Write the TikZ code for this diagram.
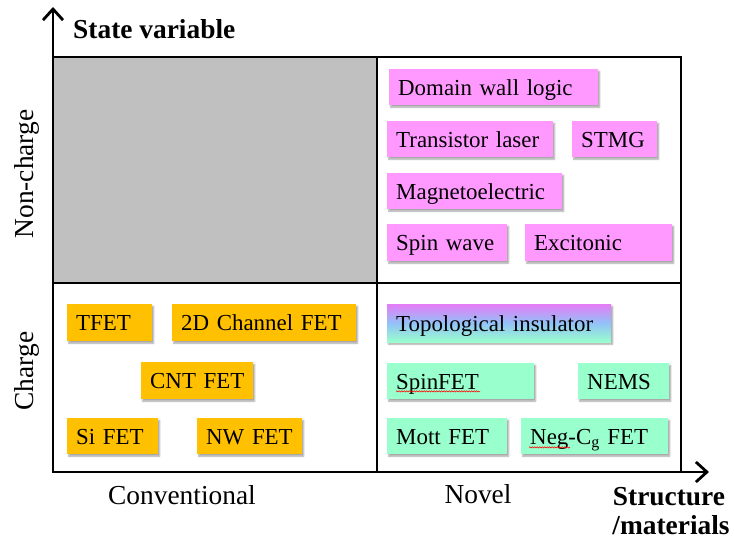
\documentclass[tikz,border=0pt]{standalone}
\usepackage{fontspec}
\setmainfont{Liberation Serif}
\usetikzlibrary{arrows.meta,shadows.blur,decorations.pathmorphing}
\definecolor{pinkbox}{HTML}{FF99FF}
\definecolor{greenbox}{HTML}{99FFCC}
\definecolor{orangebox}{HTML}{FFC000}
\definecolor{gridgray}{HTML}{C0C0C0}
\definecolor{tiTop}{HTML}{E47CF6}
\definecolor{tiMid}{HTML}{92C2F8}
\definecolor{tiBot}{HTML}{99FFCC}
\tikzset{
  border/.style={line width=2.5bp, black},
  axisline/.style={line width=2.8bp, black, -{Straight Barb[length=11bp,width=20bp]}},
  axlab/.style={inner sep=0pt, font=\fontsize{27.5}{30}\selectfont},
  axlabb/.style={inner sep=0pt, font=\fontsize{27.5}{30}\selectfont\bfseries},
  dev/.style={anchor=north west, inner xsep=9bp, inner ysep=0pt, align=left,
    text height=20bp, text depth=4bp,
    font=\fontsize{23}{27}\selectfont,
    blur shadow={shadow xshift=1.5bp, shadow yshift=-2bp, shadow blur radius=1.5bp, shadow opacity=35}},
  squiggle/.style={red, line width=0.6bp, decorate, decoration={snake, amplitude=0.6bp, segment length=2.5bp}}
}
\begin{document}
\begin{tikzpicture}[x=1bp,y=-1bp]
\useasboundingbox (0,0) rectangle (734,540);
% quadrants
\fill[gridgray] (53,57) rectangle (377,283);
\draw[border] (53,57) rectangle (681,472);
\draw[border] (377,57) -- (377,472);
\draw[border] (53,283) -- (681,283);
% axes
\coordinate (o) at (53,472);
\coordinate (ytip) at (53,7);
\coordinate (xtip) at (709,472);
\draw[axisline] (o) -- (ytip);
\draw[axisline] (o) -- (xtip);
% axis labels
\node[axlabb, anchor=base west] (sv) at (73,39) {State variable};
\node[axlab, anchor=base] (conv) at (182,504) {Conventional};
\node[axlab, anchor=base] (novel) at (478,503) {Novel};
\node[axlabb, anchor=base] (sm1) at (669,505) {Structure};
\node[axlabb, anchor=base] (sm2) at (671,534) {/materials};
\node[axlab, anchor=base, rotate=90] (nc) at (33,174) {Non-charge};
\node[axlab, anchor=base, rotate=90] (ch) at (33,371) {Charge};
% non-charge, novel
\node[dev, fill=pinkbox, text width=191bp, minimum height=36bp] (dwl) at (389,69) {\mbox{Domain wall logic}};
\node[dev, fill=pinkbox, text width=148bp, minimum height=36bp] (tl) at (387,121) {\mbox{Transistor laser}};
\node[dev, fill=pinkbox, text width=67bp, minimum height=36bp] (stmg) at (572,121) {STMG};
\node[dev, fill=pinkbox, text width=157bp, minimum height=36bp] (me) at (387,173) {Magnetoelectric};
\node[dev, fill=pinkbox, text width=102bp, minimum height=37bp] (sw) at (387,224) {\mbox{Spin wave}};
\node[dev, fill=pinkbox, text width=129bp, minimum height=37bp] (exc) at (525,224) {Excitonic};
% charge, novel
\node[dev, top color=tiTop, bottom color=tiBot, middle color=tiMid, text width=206bp, minimum height=38bp] (ti) at (387,304) {\mbox{Topological insulator}};
\node[dev, fill=greenbox, text width=129bp, minimum height=36bp] (spin) at (387,363) {SpinFET};
\node[dev, fill=greenbox, text width=73bp, minimum height=36bp] (nems) at (578,363) {NEMS};
\node[dev, fill=greenbox, text width=102bp, minimum height=36bp] (mott) at (387,418) {\mbox{Mott FET}};
\node[dev, fill=greenbox, text width=129bp, minimum height=36bp] (neg) at (521,418) {\mbox{Neg-C\textsubscript{g} FET}};
\draw[squiggle] ([xshift=9bp,yshift=8bp]spin.south west) -- ([xshift=93bp,yshift=8bp]spin.south west);
\draw[squiggle] ([xshift=8bp,yshift=7bp]neg.south west) -- ([xshift=49bp,yshift=7bp]neg.south west);
% charge, conventional
\node[dev, fill=orangebox, text width=67bp, minimum height=37bp] (tfet) at (67,304) {TFET};
\node[dev, fill=orangebox, text width=166bp, minimum height=37bp] (twod) at (172,304) {\mbox{2D Channel FET}};
\node[dev, fill=orangebox, text width=94bp, minimum height=37bp] (cnt) at (141,362) {\mbox{CNT FET}};
\node[dev, fill=orangebox, text width=73bp, minimum height=36bp] (si) at (67,418) {\mbox{Si FET}};
\node[dev, fill=orangebox, text width=87bp, minimum height=36bp] (nw) at (197,418) {\mbox{NW FET}};
\end{tikzpicture}
\end{document}
